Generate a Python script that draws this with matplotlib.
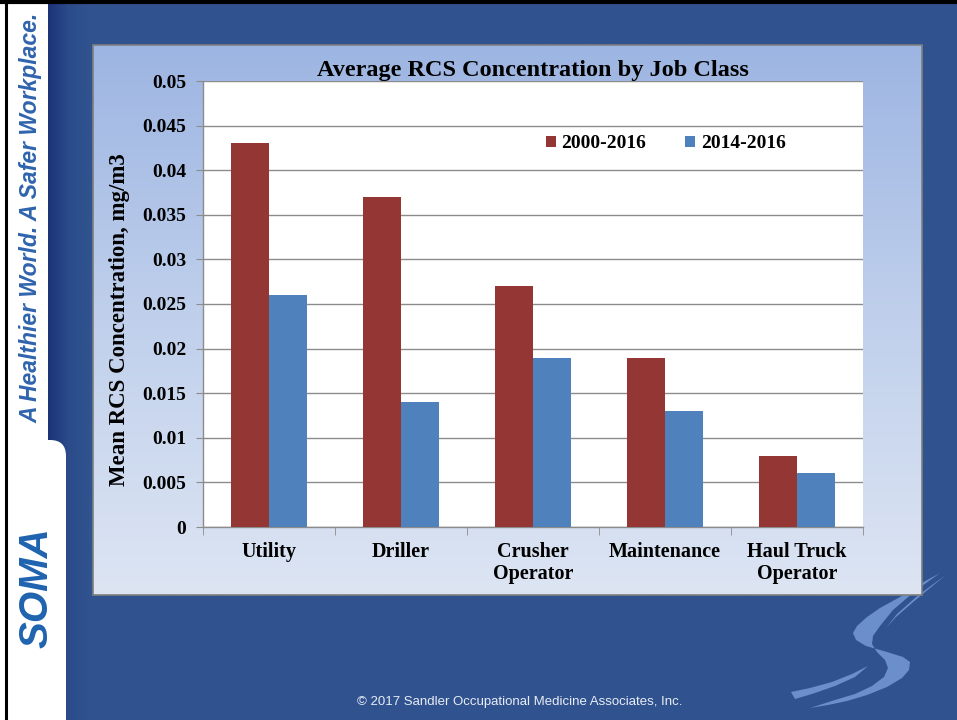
import numpy as np
import matplotlib
matplotlib.use("Agg")
import matplotlib.pyplot as plt
from matplotlib.patches import Rectangle, FancyBboxPatch, Polygon
from matplotlib.colors import LinearSegmentedColormap

# ---------------- data ----------------
categories = ["Utility", "Driller", "Crusher\nOperator", "Maintenance", "Haul Truck\nOperator"]
series_names = ["2000-2016", "2014-2016"]
values_2000_2016 = [0.043, 0.037, 0.027, 0.019, 0.008]
values_2014_2016 = [0.026, 0.014, 0.019, 0.013, 0.006]
yticks = [0, 0.005, 0.01, 0.015, 0.02, 0.025, 0.03, 0.035, 0.04, 0.045, 0.05]
ytick_labels = ["0", "0.005", "0.01", "0.015", "0.02", "0.025", "0.03", "0.035", "0.04", "0.045", "0.05"]
title = "Average RCS Concentration by Job Class"
ylabel = "Mean RCS Concentration, mg/m3"
tagline = "A Healthier World. A Safer Workplace."
footer = "\u00a9 2017 Sandler Occupational Medicine Associates, Inc."

W, H = 957, 720
fig = plt.figure(figsize=(W / 100, H / 100), dpi=100)

# background axes in pixel coordinates (y down)
bg = fig.add_axes([0, 0, 1, 1])
bg.set_xlim(0, W)
bg.set_ylim(H, 0)
bg.axis("off")

cmap_bg = LinearSegmentedColormap.from_list("bg", ["#1c3277", "#2b4b8a", "#30538f", "#30538f"])
bg.imshow(np.zeros((2, 2)), extent=[0, W, H, 0], aspect="auto",
          cmap=LinearSegmentedColormap.from_list("flat", ["#30538f", "#30538f"]), zorder=0)
bg.imshow(np.linspace(0, 1, 64)[None, :], extent=[47, 110, H, 0], aspect="auto", cmap=cmap_bg, zorder=1)

# white sidebar
bg.add_patch(Rectangle((0, 0), 48, H, facecolor="white", edgecolor="none", zorder=2))
bg.add_patch(FancyBboxPatch((10, 440), 56, 320, boxstyle="round,pad=0,rounding_size=16",
                            facecolor="white", edgecolor="none", zorder=2))
# black border lines
bg.plot([0, W], [1.5, 1.5], color="black", lw=3, zorder=5, solid_capstyle="butt")
bg.plot([5.5, 5.5], [0, H], color="black", lw=2.2, zorder=5, solid_capstyle="butt")

# tagline
bg.text(31, 218, tagline, rotation=90, ha="center", va="center", fontsize=16.5,
        fontweight="bold", fontstyle="italic", family="Liberation Sans", color="#2f64ad", zorder=6)
# SOMA logo (text)
bg.text(36, 588, "SOMA", rotation=90, ha="center", va="center", fontsize=29,
        fontweight="bold", fontstyle="italic", family="Liberation Sans", color="#1f63b0", zorder=6)

# decorative swoosh bottom right
sw = "#6b8fcb"
main_s = [(940, 573), (920, 584), (900, 597), (880, 608), (867, 617), (857, 626), (853, 633),
          (856, 640), (866, 646), (887, 652), (903, 657), (910, 662), (909, 670), (902, 678),
          (887, 687), (867, 695), (847, 701), (828, 705), (810, 708),
          (835, 700), (855, 694), (872, 686), (884, 677), (888, 668), (885, 660), (877, 652),
          (872, 644), (873, 636), (880, 626), (893, 610), (907, 598), (922, 586)]
bg.add_patch(Polygon(main_s, closed=True, facecolor=sw, edgecolor="none", zorder=3))
spear1 = [(946, 575), (930, 588), (912, 603), (896, 617), (886, 628), (897, 614), (915, 598), (932, 585)]
bg.add_patch(Polygon(spear1, closed=True, facecolor=sw, edgecolor="none", zorder=3))
spear2 = [(791, 692), (810, 688), (832, 682), (852, 674), (868, 666), (855, 677), (835, 686), (812, 694), (795, 699)]
bg.add_patch(Polygon(spear2, closed=True, facecolor=sw, edgecolor="none", zorder=3))

# footer
bg.text(520, 702, footer, ha="center", va="center", fontsize=9.5, family="Liberation Sans",
        color="#e8ecf5", zorder=6)

# chart panel with vertical gradient
px0, py0, px1, py1 = 93, 45, 922, 595
cmap_panel = LinearSegmentedColormap.from_list("panel", ["#9db5e2", "#c0d0ec", "#dde5f3"])
bg.imshow(np.linspace(0, 1, 256)[:, None], extent=[px0, px1, py1, py0], aspect="auto",
          cmap=cmap_panel, zorder=3)
bg.add_patch(Rectangle((px0, py0), px1 - px0, py1 - py0, facecolor="none",
                       edgecolor="#7f7f7f", lw=1.2, zorder=4))
bg.set_xlim(0, W)
bg.set_ylim(H, 0)

# ---------------- chart axes ----------------
ax_l, ax_t, ax_r, ax_b = 203, 81, 863, 527
ax = fig.add_axes([ax_l / W, 1 - ax_b / H, (ax_r - ax_l) / W, (ax_b - ax_t) / H])
ax.set_facecolor("white")
ax.set_zorder(10)

serif = "Liberation Serif"
x = np.arange(len(categories))
bw = 1 / 3.5
ax.bar(x - bw / 2, values_2000_2016, width=bw, color="#943634", label=series_names[0], zorder=3)
ax.bar(x + bw / 2, values_2014_2016, width=bw, color="#4f81bd", label=series_names[1], zorder=3)

ax.set_xlim(-0.5, len(categories) - 0.5)
ax.set_ylim(0, 0.05)
ax.set_yticks(yticks)
ax.set_yticklabels(ytick_labels, fontsize=14, fontweight="bold", family=serif)
ax.grid(axis="y", color="#8c8c8c", lw=1, zorder=0)
ax.set_axisbelow(True)
ax.tick_params(axis="y", length=5, color="#8c8c8c", pad=7)

ax.set_xticks(x)
ax.set_xticklabels(categories, fontsize=14.5, fontweight="bold", family=serif, linespacing=1.1)
ax.set_xticks(np.arange(len(categories) + 1) - 0.5, minor=True)
ax.tick_params(axis="x", which="major", length=0, pad=11)
ax.tick_params(axis="x", which="minor", length=6, color="#8c8c8c")

for s in ["top", "right"]:
    ax.spines[s].set_visible(False)
for s in ["left", "bottom"]:
    ax.spines[s].set_color("#8c8c8c")
    ax.spines[s].set_linewidth(1)

ax.set_ylabel(ylabel, fontsize=16.5, fontweight="bold", family=serif)
ax.yaxis.set_label_coords(-0.111, 0.466)
ax.set_title(title, fontsize=17.5, fontweight="bold", family=serif, pad=3)

leg = ax.legend(loc="center", bbox_to_anchor=(0.701, 0.859), ncol=2, frameon=False,
                prop={"family": serif, "weight": "bold", "size": 14},
                handlelength=0.5, handleheight=0.5, handletextpad=0.3, columnspacing=2.0)

fig.savefig("out.png", dpi=100)
